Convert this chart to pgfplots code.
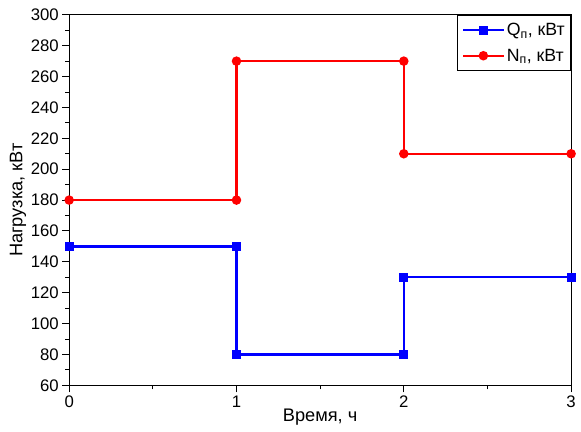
\documentclass[border=0pt]{standalone}
\usepackage{pgfplots}
\pgfplotsset{compat=1.18}
\usepackage{fontspec}
\setmainfont{Liberation Sans}

\begin{document}
\begin{tikzpicture}[x=1bp,y=1bp]
\begin{axis}[
  name=main,
  scale only axis,
  width=508bp, height=375bp,
  xmin=0, xmax=3, ymin=60, ymax=300,
  xtick={0,1,2,3}, ytick={60,80,...,300},
  minor x tick num=1, minor y tick num=1,
  xtick pos=bottom, ytick pos=left,
  tick align=outside,
  major tick length=7bp, minor tick length=4bp,
  every tick/.style={black, line width=1pt},
  axis line style={line width=1pt},
  /pgf/number format/assume math mode=true,
  tick label style={font=\fontsize{17}{18}\selectfont},
  label style={font=\fontsize{18.5}{20}\selectfont},
  xlabel={Время, ч},
  ylabel={Нагрузка, кВт},
  xlabel style={yshift=5bp},
  ylabel style={yshift=-2bp},
  legend cell align=left,
  legend style={at={(1,1)}, anchor=north east,
    font=\fontsize{18}{20}\selectfont, draw=black, line width=1pt,
    inner xsep=4bp, inner ysep=6bp, row sep=8bp},
  legend image code/.code={
    \draw[#1] (0cm,0cm) -- (1.45cm,0cm);
    \draw[#1, only marks] plot coordinates {(0.725cm,0cm)};
  },
  clip=false,
]
\addplot[blue, line width=2.3pt, mark=square*, mark size=3.3bp, mark options={solid}]
  coordinates {(0,150) (1,150) (1,80) (2,80) (2,130) (3,130)};
\addlegendentry{Q\textsubscript{п}, кВт}
\addplot[red, line width=2.3pt, mark=*, mark size=3.6bp, mark options={solid}]
  coordinates {(0,180) (1,180) (1,270) (2,270) (2,210) (3,210)};
\addlegendentry{N\textsubscript{п}, кВт}
\end{axis}
\pgfresetboundingbox
\path[use as bounding box] (main.south west) ++(-70bp,-47bp) rectangle ++(588bp,437bp);
\end{tikzpicture}
\end{document}
